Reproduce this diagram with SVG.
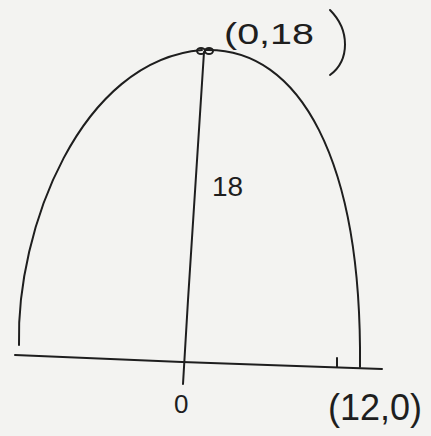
<svg xmlns="http://www.w3.org/2000/svg" width="431" height="436" viewBox="0 0 431 436">
<style>
.ink{fill:none;stroke:#1e1e1e;stroke-width:2;stroke-linecap:round;stroke-linejoin:round}
.t{font-family:"Liberation Sans",sans-serif;fill:#1e1e1e}
</style>
<rect width="431" height="436" fill="#f3f3f1"/>
<g id="connectors">
<path class="ink" d="M15,355 L182,362 L382,369"/>
<path class="ink" d="M204,52 L188,300 L183,384"/>
<path class="ink" d="M337,358 L337,367"/>
</g>
<g id="parabola">
<path class="ink" d="M19,345 C16,230 80,60 202,50"/>
<path class="ink" d="M206,50 C300,48 362,160 360,367"/>
<ellipse class="ink" cx="201" cy="51" rx="4" ry="3"/>
<ellipse class="ink" cx="209" cy="51" rx="4" ry="3"/>
</g>
<g id="label-vertex">
<text class="t" x="224" y="44" font-size="30" textLength="90" lengthAdjust="spacingAndGlyphs">(0,18</text>
<path class="ink" d="M330,10 C350,30 350,60 330,75"/>
</g>
<g id="label-height">
<text class="t" x="212" y="196" font-size="28">18</text>
</g>
<g id="label-origin">
<text class="t" x="174" y="413" font-size="26">0</text>
</g>
<g id="label-right">
<text class="t" x="328" y="420" font-size="36">(12,0)</text>
</g>
</svg>
